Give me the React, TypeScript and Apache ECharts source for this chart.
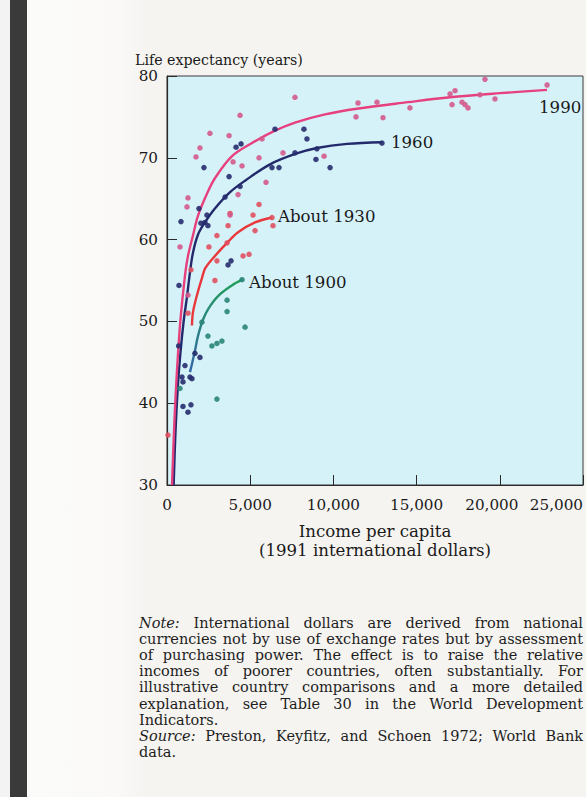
import React, { useEffect, useRef } from "react";
import * as echarts from "echarts";

// ---------- data ----------
const xTicks = [0, 5000, 10000, 15000, 20000, 25000];
const yTicks = [30, 40, 50, 60, 70, 80];

const seriesNames = ["1990", "1960", "About 1930", "About 1900"];

const points1990: [number, number][] = [
  [4390, 75.2], [2580, 73.0], [3730, 72.7], [1980, 71.2], [1740, 70.1], [3970, 69.5],
  [4510, 69.0], [5530, 70.0], [5710, 72.3], [7690, 77.4], [6970, 70.6], [9440, 70.2],
  [5950, 67.0], [4270, 65.5], [1260, 65.1], [1200, 64.0], [3790, 63.0], [780, 59.1],
  [1260, 53.2], [11480, 76.7], [12620, 76.8], [11360, 75.0], [12980, 74.9], [14600, 76.1],
  [17010, 77.8], [17310, 78.2], [17130, 76.5], [17730, 76.8], [17910, 76.5], [18090, 76.1],
  [18810, 77.7], [19710, 77.2], [19110, 79.6], [22840, 78.9],
];
const points1960: [number, number][] = [
  [4150, 71.3], [4450, 71.7], [2220, 68.8], [3730, 67.7], [6490, 73.5], [8230, 73.5],
  [8410, 72.3], [7690, 70.6], [8950, 69.8], [9800, 68.8], [6310, 68.8], [6730, 68.8],
  [9010, 71.1], [4390, 66.5], [3490, 65.2], [840, 62.2], [2400, 63.0], [2280, 62.1],
  [2040, 62.0], [2460, 61.7], [1920, 63.8], [3850, 57.4], [3670, 56.9], [720, 54.4],
  [12920, 71.8], [960, 42.6], [1080, 44.6], [1380, 43.2], [900, 43.2], [1500, 43.0],
  [960, 39.6], [1440, 39.8], [1260, 38.9], [1680, 46.1], [1980, 45.6], [700, 47.0],
];
const points1930: [number, number][] = [
  [5530, 64.3], [5170, 63.0], [3670, 61.7], [5290, 61.1], [6370, 61.7], [3000, 60.5],
  [3610, 59.6], [2520, 59.1], [4570, 58.0], [4930, 58.2], [3000, 57.4], [1440, 56.3],
  [2880, 55.0], [1260, 51.0], [60, 36.1], [3790, 63.2], [6310, 62.7],
];
const points1900: [number, number][] = [
  [4510, 55.1], [3610, 52.6], [3610, 51.2], [2100, 49.9], [4690, 49.3], [3000, 40.5],
  [2460, 48.2], [3000, 47.3], [3300, 47.6], [2700, 47.0], [780, 41.8],
];

const curve1990: [number, number][] = [
  [300, 30], [450, 38], [600, 44], [800, 50], [1080, 55.6], [1260, 58.0], [1560, 60.5],
  [1860, 62.9], [2400, 65.6], [2880, 67.5], [3910, 70.2], [5110, 71.8], [6370, 73.2],
  [7690, 74.3], [9500, 75.3], [11400, 76.0], [14480, 76.8], [17000, 77.4], [20000, 77.9],
  [22840, 78.3],
];
const curve1960: [number, number][] = [
  [400, 30], [500, 36], [650, 42], [800, 46], [1000, 50], [1200, 53], [1380, 56],
  [1560, 58.4], [1860, 60.6], [2280, 62.1], [2880, 63.8], [3790, 65.8], [4690, 67.2],
  [6190, 69.2], [7750, 70.5], [9010, 71.2], [10820, 71.7], [12920, 71.9],
];
const curve1930: [number, number][] = [
  [1500, 49.5], [1560, 51.1], [1800, 53.2], [2100, 55.3], [2300, 56.5], [2880, 58.0],
  [3610, 59.6], [4270, 60.9], [5290, 62.1], [6310, 62.7],
];
const curve1900: [number, number][] = [
  [1380, 43.8], [1500, 44.8], [1680, 46.4], [1860, 48.2], [2160, 50.2], [2500, 51.6],
  [3070, 53.1], [3900, 54.4], [4510, 55.1],
];

const yAxisTitle = "Life expectancy (years)";
const xAxisTitle = ["Income per capita", "(1991 international dollars)"];

const noteLines = [
  "Note: International dollars are derived from national",
  "currencies not by use of exchange rates but by assessment",
  "of purchasing power. The effect is to raise the relative",
  "incomes of poorer countries, often substantially. For",
  "illustrative country comparisons and a more detailed",
  "explanation, see Table 30 in the World Development",
  "Indicators.",
  "Source: Preston, Keyfitz, and Schoen 1972; World Bank",
  "data.",
];
const noteJustified = [true, true, true, true, true, true, false, true, false];
const noteItalicWords = ["Note:", "Source:"];

// ---------- styling ----------
const SERIF = '"DejaVu Serif", serif';
const FAMILY = "DejaVu Serif";
const NOTE_LEFT = 139;
const NOTE_RIGHT = 583;
const NOTE_TOP = 623;
const NOTE_STEP = 16.1;

function buildNote(): any[] {
  const canvas = document.createElement("canvas");
  const ctx = canvas.getContext("2d") as CanvasRenderingContext2D;
  const fontOf = (it: boolean, size: number) => `${it ? "italic " : ""}${size}px "${FAMILY}"`;
  const measureLine = (line: string, size: number) => {
    let w = 0;
    line.split(" ").forEach((word, j) => {
      ctx.font = fontOf(noteItalicWords.includes(word), size);
      w += ctx.measureText(word).width;
      if (j > 0) {
        ctx.font = fontOf(false, size);
        w += ctx.measureText(" ").width;
      }
    });
    return w;
  };
  let maxW = 0;
  noteLines.forEach((l, i) => {
    if (noteJustified[i]) maxW = Math.max(maxW, measureLine(l, 10));
  });
  const size = Math.min(14.5, Math.floor(((NOTE_RIGHT - NOTE_LEFT - 2) / maxW) * 100) / 10);

  const els: any[] = [];
  noteLines.forEach((line, i) => {
    const words = line.split(" ");
    const widths = words.map((w) => {
      ctx.font = fontOf(noteItalicWords.includes(w), size);
      return ctx.measureText(w).width;
    });
    ctx.font = fontOf(false, size);
    const space = ctx.measureText(" ").width;
    const total = widths.reduce((a, b) => a + b, 0);
    const gap =
      noteJustified[i] && words.length > 1
        ? (NOTE_RIGHT - NOTE_LEFT - total) / (words.length - 1)
        : space;
    let x = NOTE_LEFT;
    const y = NOTE_TOP + i * NOTE_STEP;
    words.forEach((w, j) => {
      const it = noteItalicWords.includes(w);
      els.push({
        type: "text",
        x,
        y,
        silent: true,
        style: {
          text: w,
          fontFamily: FAMILY,
          fontSize: size,
          fontStyle: it ? "italic" : "normal",
          fill: "#1e1e1e",
          textVerticalAlign: "middle",
        },
      });
      x += widths[j] + gap;
    });
  });
  return els;
}

export default function App() {
  const ref = useRef<HTMLDivElement>(null);
  useEffect(() => {
    if (!ref.current) return;
    const chart = echarts.init(ref.current, undefined, { renderer: "svg" });

    const labelStyle = { color: "#1a1a1a", fontFamily: SERIF, fontSize: 16.6 };
    const lineSeries = (
      name: string,
      data: [number, number][],
      color: any,
      offset: number[],
      distance: number
    ) => ({
      name,
      type: "line",
      data,
      smooth: 0.35,
      showSymbol: false,
      silent: true,
      z: 3,
      lineStyle: { color, width: 2.4 },
      endLabel: { show: true, formatter: name, ...labelStyle, offset, distance },
    });
    const scatter = (data: [number, number][], color: string) => ({
      type: "scatter",
      data,
      symbolSize: 5.5,
      silent: true,
      z: 4,
      itemStyle: { color, opacity: 0.9 },
    });

    const tickFont = { color: "#1a1a1a", fontFamily: SERIF, fontSize: 15.2 };
    const secondLast = xTicks[xTicks.length - 2];

    chart.setOption({
      animation: false,
      backgroundColor: "#f6f4f1",
      grid: {
        left: 167,
        right: 3,
        top: 76,
        bottom: 312,
        show: true,
        backgroundColor: "#d6f2f9",
        borderColor: "#3a3a3a",
        borderWidth: 1,
      },
      xAxis: {
        type: "value",
        min: xTicks[0],
        max: xTicks[xTicks.length - 1],
        interval: xTicks[1] - xTicks[0],
        splitLine: { show: false },
        axisLine: { show: true, lineStyle: { color: "#2a2a2a", width: 1.2 } },
        axisTick: { show: true, inside: true, length: 10, lineStyle: { color: "#2a2a2a" } },
        axisLabel: {
          ...tickFont,
          margin: 12,
          alignMaxLabel: "right",
          formatter: (v: number) => {
            const s = v.toLocaleString("en-US");
            return v === secondLast ? `{l|${s}}` : s;
          },
          rich: { l: { ...tickFont, padding: [0, 16, 0, 0] } },
        },
        name: xAxisTitle.join("\n"),
        nameLocation: "middle",
        nameGap: 37,
        nameTextStyle: { color: "#1a1a1a", fontFamily: SERIF, fontSize: 16.6, lineHeight: 19 },
      },
      yAxis: {
        type: "value",
        min: yTicks[0],
        max: yTicks[yTicks.length - 1],
        interval: yTicks[1] - yTicks[0],
        splitLine: { show: false },
        axisLine: { show: true, lineStyle: { color: "#2a2a2a", width: 1.2 } },
        axisTick: { show: true, inside: true, length: 10, lineStyle: { color: "#2a2a2a" } },
        axisLabel: {
          ...tickFont,
          margin: 9,
          verticalAlign: "middle",
          padding: [6, 0, 0, 0],
        },
      },
      graphic: [
        { type: "rect", shape: { x: 0, y: 0, width: 10, height: 797 }, style: { fill: "#f3f3f3" }, silent: true },
        { type: "rect", shape: { x: 10, y: 0, width: 17, height: 797 }, style: { fill: "#3a3a3a" }, silent: true },
        {
          type: "rect",
          shape: { x: 27, y: 0, width: 120, height: 797 },
          style: {
            fill: new echarts.graphic.LinearGradient(0, 0, 1, 0, [
              { offset: 0, color: "#fbfbfa" },
              { offset: 0.75, color: "#faf9f8" },
              { offset: 1, color: "#f6f4f1" },
            ]),
          },
          silent: true,
        },
        {
          type: "text",
          x: 135,
          y: 60,
          silent: true,
          style: {
            text: yAxisTitle,
            fontFamily: FAMILY,
            fontSize: 14.2,
            fill: "#1a1a1a",
            textVerticalAlign: "middle",
          },
        },
        ...buildNote(),
      ],
      series: [
        lineSeries(
          seriesNames[3],
          curve1900,
          new echarts.graphic.LinearGradient(0, 1, 0, 0, [
            { offset: 0, color: "#3466a8" },
            { offset: 1, color: "#22a05a" },
          ]),
          [0, 3],
          7
        ),
        lineSeries(seriesNames[2], curve1930, "#e8383c", [0, -1], 6),
        lineSeries(seriesNames[1], curve1960, "#222a6c", [0, 0], 9),
        lineSeries(seriesNames[0], curve1990, "#e6407e", [-8, 18], 0),
        scatter(points1900, "#2a8578"),
        scatter(points1930, "#e0505e"),
        scatter(points1960, "#262c6e"),
        scatter(points1990, "#d45a8c"),
      ],
    });
    return () => chart.dispose();
  }, []);

  return (
    <div
      ref={ref}
      style={{ position: "fixed", left: 0, top: 0, width: 586, height: 797 }}
    />
  );
}
